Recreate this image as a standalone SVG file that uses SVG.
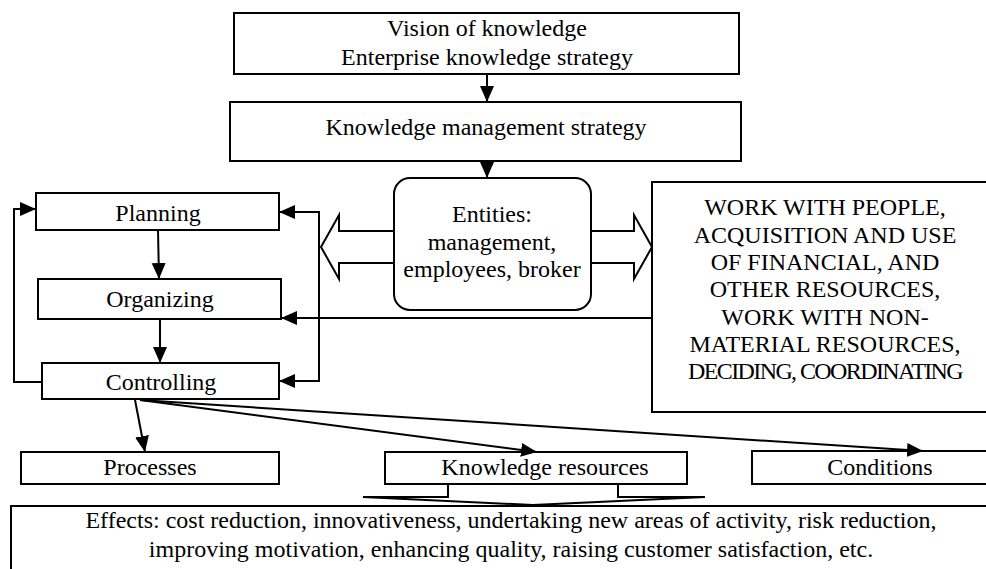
<svg xmlns="http://www.w3.org/2000/svg" width="986" height="569" viewBox="0 0 986 569" font-family="'Liberation Serif', 'Times New Roman', 'DejaVu Serif', serif">
<defs>
<marker id="ah" markerUnits="userSpaceOnUse" markerWidth="17" markerHeight="15" refX="16" refY="7" orient="auto">
<path d="M0,0 L16,7 L0,14 z" fill="#000"/>
</marker>
<style>
.box{fill:#fff;stroke:#000;stroke-width:2}
.t{font-family:'Liberation Serif','Times New Roman','DejaVu Serif',serif;font-size:24px;fill:#000;text-anchor:middle}
.c{fill:none;stroke:#000;stroke-width:2}
.a{fill:none;stroke:#000;stroke-width:2;marker-end:url(#ah)}
.blk{fill:#fff;stroke:#000;stroke-width:2;stroke-linejoin:miter}
</style>
</defs>
<rect width="986" height="569" fill="#fff"/>

<g id="vision">
<rect class="box" x="234" y="13" width="505" height="61"/>
<text class="t" x="487" y="36">Vision of knowledge</text>
<text class="t" x="487" y="65">Enterprise knowledge strategy</text>
</g>
<g id="kmstrategy">
<rect class="box" x="230" y="102" width="511" height="59"/>
<text class="t" x="486" y="135">Knowledge management strategy</text>
</g>
<g id="entities">
<rect class="box" x="394" y="178" width="197" height="132" rx="16" ry="16"/>
<text class="t" x="492" y="222">Entities:</text>
<text class="t" x="492" y="250">management,</text>
<text class="t" x="492" y="277">employees, broker</text>
</g>
<g id="work">
<rect class="box" x="652" y="182" width="350" height="230"/>
<text class="t" x="825" y="215">WORK WITH PEOPLE,</text>
<text class="t" x="825" y="243">ACQUISITION AND USE</text>
<text class="t" x="825" y="270">OF FINANCIAL, AND</text>
<text class="t" x="825" y="297">OTHER RESOURCES,</text>
<text class="t" x="825" y="325">WORK WITH NON-</text>
<text class="t" x="825" y="352">MATERIAL RESOURCES,</text>
<text class="t" x="825" y="379" letter-spacing="-1.6">DECIDING, COORDINATING</text>
</g>
<g id="planning">
<rect class="box" x="36" y="193" width="243" height="37"/>
<text class="t" x="158" y="221">Planning</text>
</g>
<g id="organizing">
<rect class="box" x="38" y="279" width="243" height="40"/>
<text class="t" x="160" y="307">Organizing</text>
</g>
<g id="controlling">
<rect class="box" x="42" y="363" width="237" height="36"/>
<text class="t" x="161" y="390">Controlling</text>
</g>
<g id="processes">
<rect class="box" x="21" y="452" width="258" height="32"/>
<text class="t" x="150" y="475">Processes</text>
</g>
<g id="resources">
<rect class="box" x="385" y="452" width="302" height="32"/>
<text class="t" x="545" y="475">Knowledge resources</text>
</g>
<g id="conditions">
<rect class="box" x="752" y="451" width="260" height="33"/>
<text class="t" x="880" y="475">Conditions</text>
</g>
<g id="effects">
<rect class="box" x="11" y="506" width="1000" height="90"/>
<text class="t" x="511" y="528">Effects: cost reduction, innovativeness, undertaking new areas of activity, risk reduction,</text>
<text class="t" x="511" y="557">improving motivation, enhancing quality, raising customer satisfaction, etc.</text>
</g>

<g id="connectors">
<line class="a" x1="487" y1="74" x2="487" y2="102"/>
<line class="a" x1="487" y1="161" x2="487" y2="178"/>
<line class="a" x1="158" y1="230" x2="159" y2="279"/>
<line class="a" x1="160" y1="319" x2="160" y2="363"/>
<polyline class="a" points="42,382 14,382 14,209 36,209"/>
<line class="c" x1="319" y1="212" x2="319" y2="382"/>
<line class="a" x1="320" y1="212" x2="279" y2="212"/>
<line class="a" x1="320" y1="381" x2="279" y2="381"/>
<line class="a" x1="652" y1="318" x2="281" y2="318"/>
<line class="a" x1="135" y1="400" x2="145" y2="452"/>
<line class="a" x1="140" y1="400" x2="537" y2="452"/>
<line class="a" x1="140" y1="400" x2="923" y2="451"/>
<polygon class="blk" points="394,231 339,231 339,215 321,247 339,279 339,263 394,263"/>
<polygon class="blk" points="591,231 634,231 634,215 652,247 634,279 634,263 591,263"/>
<polyline class="c" points="448,484 448,497 363,497 533,505 705,497 618,497 618,484"/>
</g>
</svg>
